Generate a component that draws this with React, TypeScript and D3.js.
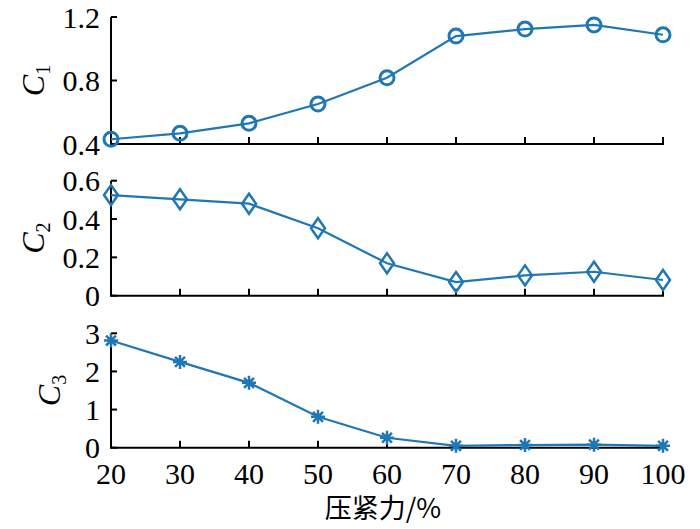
import React from "react";
import * as d3 from "d3";

const xValues = [20, 30, 40, 50, 60, 70, 80, 90, 100];
const c1Values = [0.43, 0.467, 0.53, 0.652, 0.817, 1.08, 1.124, 1.15, 1.088];
const c2Values = [0.525, 0.503, 0.48, 0.352, 0.169, 0.071, 0.106, 0.125, 0.082];
const c3Values = [2.81, 2.25, 1.7, 0.81, 0.26, 0.05, 0.07, 0.08, 0.05];
const c1Ticks = [0.4, 0.8, 1.2];
const c2Ticks = [0, 0.2, 0.4, 0.6];
const c3Ticks = [0, 1, 2, 3];
const xTickLabels = ["20", "30", "40", "50", "60", "70", "80", "90", "100"];
const xTitle = "压紧力/%";

const W = 700;
const H = 529;
const COLOR = "#1f77b4";
const SERIF = "Liberation Serif, Times New Roman, DejaVu Serif, serif";

const x = d3.scaleLinear().domain([20, 100]).range([111, 663]);

type Panel = {
  values: number[];
  ticks: number[];
  domain: [number, number];
  range: [number, number];
  sub: string;
  marker: "circle" | "diamond" | "star";
  labelX: number;
  fmt: (v: number) => string;
};

const panels: Panel[] = [
  { values: c1Values, ticks: c1Ticks, domain: [0.4, 1.2], range: [144, 17], sub: "1", marker: "circle", labelX: 44, fmt: (v) => v.toFixed(1) },
  { values: c2Values, ticks: c2Ticks, domain: [0, 0.6], range: [295.7, 180.7], sub: "2", marker: "diamond", labelX: 44, fmt: (v) => (v === 0 ? "0" : v.toFixed(1)) },
  { values: c3Values, ticks: c3Ticks, domain: [0, 3], range: [447.7, 333.3], sub: "3", marker: "star", labelX: 60, fmt: (v) => String(v) },
];

function Marker({ kind, cx, cy }: { kind: string; cx: number; cy: number }) {
  if (kind === "circle") {
    return <circle cx={cx} cy={cy} r={7} fill="none" stroke={COLOR} strokeWidth={3} />;
  }
  if (kind === "diamond") {
    const w = 7, h = 10;
    return (
      <path
        d={`M${cx},${cy - h}L${cx + w},${cy}L${cx},${cy + h}L${cx - w},${cy}Z`}
        fill="none"
        stroke={COLOR}
        strokeWidth={2.5}
      />
    );
  }
  const r = 7;
  const segs = [0, 45, 90, 135].map((a) => {
    const rad = (a * Math.PI) / 180;
    const dx = r * Math.cos(rad);
    const dy = r * Math.sin(rad);
    return `M${cx - dx},${cy - dy}L${cx + dx},${cy + dy}`;
  });
  return <path d={segs.join("")} stroke={COLOR} strokeWidth={2.5} fill="none" />;
}

export default function App() {
  return (
    <svg width={W} height={H} style={{ position: "absolute", left: 0, top: 0, background: "#fff" }}>
      <rect width={W} height={H} fill="#fff" />
      {panels.map((p, i) => {
        const y = d3.scaleLinear().domain(p.domain).range(p.range);
        const line = d3
          .line<number>()
          .x((_, j) => x(xValues[j]))
          .y((d) => y(d));
        const y0 = p.range[0];
        const y1 = p.range[1];
        const midY = (y0 + y1) / 2;
        return (
          <g key={i}>
            <line x1={x(20)} x2={x(20)} y1={y1} y2={y0} stroke="#000" strokeWidth={2} />
            <line x1={x(20) - 1} x2={x(100) + 1} y1={y0} y2={y0} stroke="#000" strokeWidth={2} />
            {p.ticks.map((t) => (
              <g key={t}>
                <line x1={x(20)} x2={x(20) + 6} y1={y(t)} y2={y(t)} stroke="#000" strokeWidth={2} />
                <text
                  x={100}
                  y={y(t)}
                  dy="0.35em"
                  textAnchor="end"
                  style={{ fontFamily: SERIF, fontSize: 30 }}
                  fill="#000"
                >
                  {p.fmt(t)}
                </text>
              </g>
            ))}
            {xValues.map((v) => (
              <line key={v} x1={x(v)} x2={x(v)} y1={y0} y2={y0 - 7} stroke="#000" strokeWidth={2} />
            ))}
            <text
              transform={`translate(${p.labelX},${midY}) rotate(-90)`}
              textAnchor="middle"
              style={{ fontFamily: SERIF, fontSize: 32 }}
              fill="#000"
            >
              <tspan fontStyle="italic">C</tspan>
              <tspan style={{ fontSize: 20 }} dy={6}>{p.sub}</tspan>
            </text>
            <path d={line(p.values) || ""} fill="none" stroke={COLOR} strokeWidth={2.2} />
            {p.values.map((v, j) => (
              <Marker key={j} kind={p.marker} cx={x(xValues[j])} cy={y(v)} />
            ))}
          </g>
        );
      })}
      {xValues.map((v, j) => (
        <text
          key={v}
          x={x(v)}
          y={484}
          textAnchor="middle"
          style={{ fontFamily: SERIF, fontSize: 30 }}
          fill="#000"
        >
          {xTickLabels[j]}
        </text>
      ))}
      <text
        x={383}
        y={518}
        textAnchor="middle"
        style={{ fontFamily: "Noto Sans CJK SC, Liberation Serif, serif", fontSize: 27 }}
        fill="#000"
      >
        {xTitle}
      </text>
    </svg>
  );
}
